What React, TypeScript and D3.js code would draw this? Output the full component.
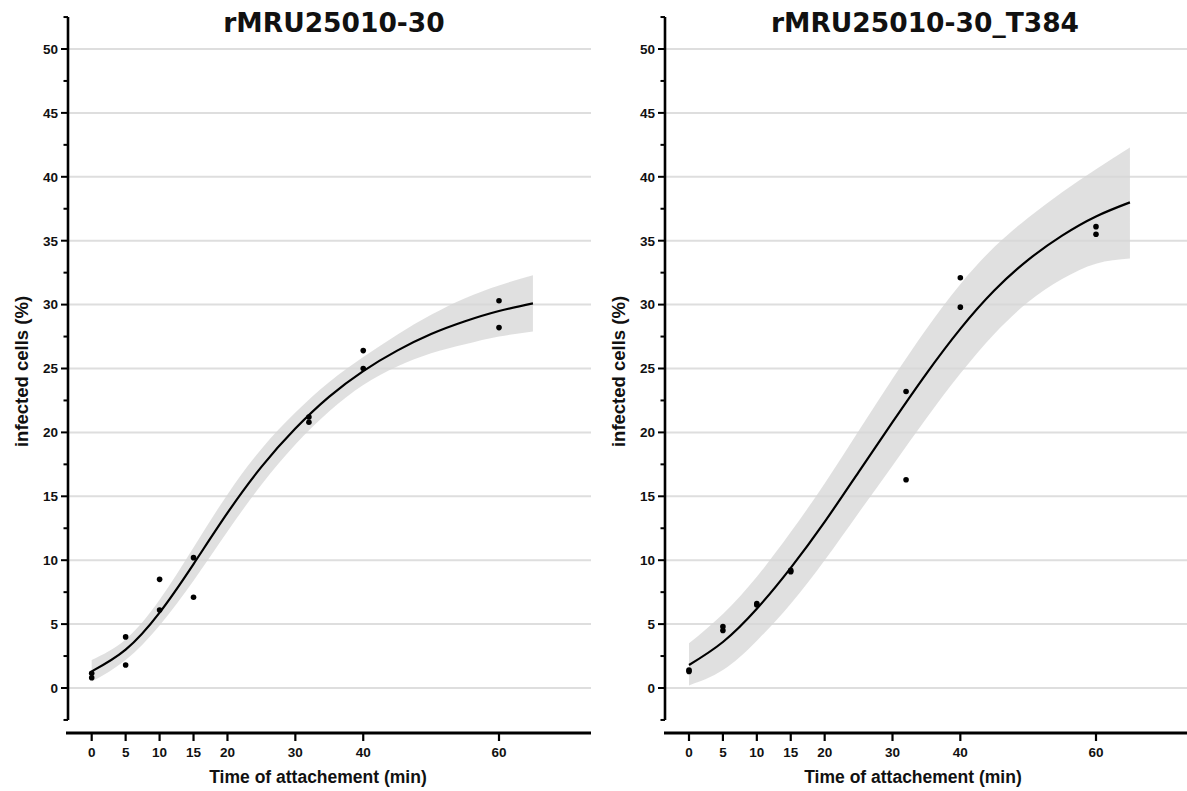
import React from "react";
import * as d3 from "d3";

// ---------- data ----------
const xTickValues = [0, 5, 10, 15, 20, 30, 40, 60];
const yMajorTicks = [0, 5, 10, 15, 20, 25, 30, 35, 40, 45, 50];
const yMinorTicks = [-2.5, 2.5, 7.5, 12.5, 17.5, 22.5, 27.5, 32.5, 37.5, 42.5, 47.5, 52.5];

const obsTimes = [0, 0, 5, 5, 10, 10, 15, 15, 32, 32, 40, 40, 60, 60];
const obsA = [1.15, 0.8, 4.0, 1.8, 8.5, 6.1, 10.2, 7.1, 21.2, 20.8, 26.4, 25.0, 30.3, 28.2];
const obsB = [1.4, 1.3, 4.8, 4.5, 6.6, 6.5, 9.2, 9.1, 23.2, 16.3, 32.1, 29.8, 36.1, 35.5];

const fitTimes = [0, 5, 10, 15, 20, 25, 30, 35, 40, 45, 50, 55, 60, 65];
const fitA = [1.3, 3.0, 5.9, 9.7, 13.7, 17.3, 20.3, 22.8, 24.8, 26.4, 27.7, 28.7, 29.5, 30.1];
const lowerA = [0.5, 2.2, 4.9, 8.4, 12.25, 15.9, 19.05, 21.65, 23.7, 25.15, 26.2, 26.9, 27.5, 27.9];
const upperA = [2.2, 3.8, 6.9, 11.0, 15.15, 18.7, 21.55, 23.95, 25.9, 27.65, 29.2, 30.5, 31.5, 32.3];

const fitB = [1.8, 3.6, 6.2, 9.4, 13.0, 16.9, 20.8, 24.6, 28.1, 31.1, 33.5, 35.4, 36.9, 38.0];
const lowerB = [0.2, 1.4, 3.7, 6.6, 10.0, 13.7, 17.4, 21.1, 24.6, 27.7, 30.2, 32.0, 33.2, 33.6];
const upperB = [3.5, 5.8, 8.7, 12.2, 16.0, 20.1, 24.2, 28.1, 31.6, 34.5, 36.8, 38.8, 40.6, 42.3];

const titleA = "rMRU25010-30";
const titleB = "rMRU25010-30_T384";
const xLabel = "Time of attachement (min)";
const yLabel = "infected cells (%)";

// ---------- layout ----------
const W = 1187;
const H = 791;
const yScale = d3.scaleLinear().domain([0, 50]).range([688, 49]);
const AXIS_FONT = "'Liberation Sans', Arial, sans-serif";
const TITLE_FONT = "'DejaVu Sans', Verdana, sans-serif";

type PanelProps = {
  title: string;
  obs: number[];
  fit: number[];
  lower: number[];
  upper: number[];
  yAxisX: number;
  xAxisStart: number;
  xAxisEnd: number;
  xRange: [number, number];
  titleX: number;
  yLabelX: number;
  xLabelX: number;
};

function Panel(p: PanelProps) {
  const x = d3.scaleLinear().domain([0, 60]).range(p.xRange);
  const xAxisY = 733;
  const yTop = yScale(52.5);
  const yBot = yScale(-2.5);

  const bandData = fitTimes.map((t, i) => ({ t, lo: p.lower[i], hi: p.upper[i] }));
  const area = d3
    .area<{ t: number; lo: number; hi: number }>()
    .x((d) => x(d.t))
    .y0((d) => yScale(d.lo))
    .y1((d) => yScale(d.hi))
    .curve(d3.curveNatural);
  const lineData = fitTimes.map((t, i) => ({ t, v: p.fit[i] }));
  const line = d3
    .line<{ t: number; v: number }>()
    .x((d) => x(d.t))
    .y((d) => yScale(d.v))
    .curve(d3.curveNatural);

  return (
    <g>
      {yMajorTicks.map((v) => (
        <line
          key={"g" + v}
          x1={p.yAxisX}
          x2={p.xAxisEnd}
          y1={yScale(v)}
          y2={yScale(v)}
          stroke="#dedede"
          strokeWidth={2}
        />
      ))}
      <path d={area(bandData) || ""} fill="#d6d6d6" fillOpacity={0.75} stroke="none" />
      <path d={line(lineData) || ""} fill="none" stroke="#000" strokeWidth={2.2} />
      {obsTimes.map((t, i) => (
        <circle key={"p" + i} cx={x(t)} cy={yScale(p.obs[i])} r={2.8} fill="#000" />
      ))}
      <line x1={p.yAxisX} x2={p.yAxisX} y1={yTop} y2={yBot} stroke="#000" strokeWidth={2.6} />
      {yMajorTicks.map((v) => (
        <g key={"yt" + v}>
          <line
            x1={p.yAxisX - 7}
            x2={p.yAxisX}
            y1={yScale(v)}
            y2={yScale(v)}
            stroke="#000"
            strokeWidth={2}
          />
          <text
            x={p.yAxisX - 10}
            y={yScale(v)}
            dy="0.36em"
            textAnchor="end"
            fontFamily={AXIS_FONT}
            fontWeight="bold"
            fontSize={13.5}
            fill="#111"
          >
            {v}
          </text>
        </g>
      ))}
      {yMinorTicks.map((v) => (
        <line
          key={"ym" + v}
          x1={p.yAxisX - 4.5}
          x2={p.yAxisX}
          y1={yScale(v)}
          y2={yScale(v)}
          stroke="#000"
          strokeWidth={2}
        />
      ))}
      <line x1={p.xAxisStart} x2={p.xAxisEnd} y1={xAxisY} y2={xAxisY} stroke="#000" strokeWidth={2.8} />
      {xTickValues.map((v) => (
        <g key={"xt" + v}>
          <line x1={x(v)} x2={x(v)} y1={xAxisY} y2={xAxisY + 8} stroke="#000" strokeWidth={2.2} />
          <text
            x={x(v)}
            y={xAxisY + 24}
            textAnchor="middle"
            fontFamily={AXIS_FONT}
            fontWeight="bold"
            fontSize={13.5}
            fill="#111"
          >
            {v}
          </text>
        </g>
      ))}
      <text
        x={p.xLabelX}
        y={783}
        textAnchor="middle"
        fontFamily={AXIS_FONT}
        fontWeight="bold"
        fontSize={17.5}
        fill="#111"
      >
        {xLabel}
      </text>
      <text
        transform={`translate(${p.yLabelX},${(yTop + yBot) / 2 + 3}) rotate(-90)`}
        textAnchor="middle"
        dy="0.36em"
        fontFamily={AXIS_FONT}
        fontWeight="bold"
        fontSize={18.5}
        fill="#111"
      >
        {yLabel}
      </text>
      <text
        x={p.titleX}
        y={32}
        textAnchor="middle"
        fontFamily={TITLE_FONT}
        fontWeight="bold"
        fontSize={26.5}
        fill="#111"
      >
        {p.title}
      </text>
    </g>
  );
}

export default function App() {
  return (
    <svg
      width={W}
      height={H}
      viewBox={`0 0 ${W} ${H}`}
      style={{ position: "absolute", left: 0, top: 0, display: "block", background: "#fff" }}
    >
      <rect width={W} height={H} fill="#fff" />
      <Panel
        title={titleA}
        obs={obsA}
        fit={fitA}
        lower={lowerA}
        upper={upperA}
        yAxisX={68}
        xAxisStart={66}
        xAxisEnd={591}
        xRange={[91.7, 499]}
        titleX={334}
        yLabelX={21}
        xLabelX={318}
      />
      <Panel
        title={titleB}
        obs={obsB}
        fit={fitB}
        lower={lowerB}
        upper={upperB}
        yAxisX={665}
        xAxisStart={664}
        xAxisEnd={1187}
        xRange={[689, 1096]}
        titleX={925}
        yLabelX={618}
        xLabelX={913}
      />
    </svg>
  );
}
